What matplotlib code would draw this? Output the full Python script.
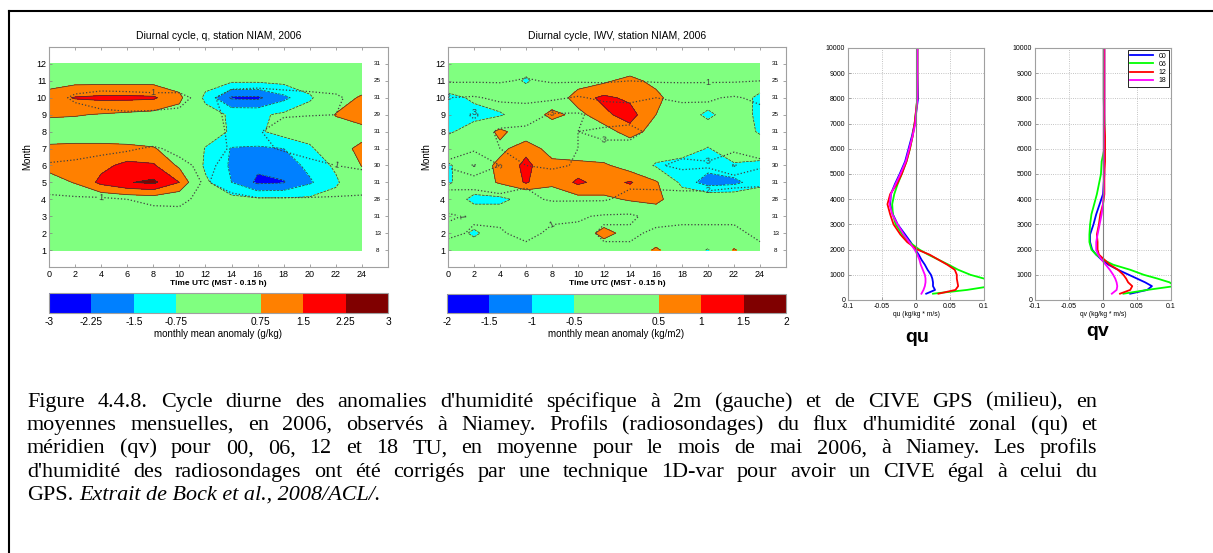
import matplotlib
matplotlib.use("Agg")
import matplotlib.pyplot as plt
import numpy as np
from matplotlib.colors import ListedColormap, BoundaryNorm
from matplotlib.cm import ScalarMappable
from matplotlib.lines import Line2D

plt.rcParams['font.family'] = ['Liberation Sans', 'DejaVu Sans']

W, H = 1213, 553

# ---- diurnal cycle grids (rows = months 1..12, cols = hours 0,2,..,24)
hours = list(range(0, 25, 2))
months = list(range(1, 13))

q_anom = [
    [0.0, 0.0, 0.0, 0.0, 0.0, 0.0, 0.0, 0.0, 0.0, 0.0, 0.0, 0.0, 0.0],
    [0.0, 0.0, 0.0, 0.0, 0.0, 0.0, 0.0, 0.0, 0.0, 0.0, 0.0, 0.0, 0.0],
    [0.0, 0.0, 0.0, 0.0, 0.0, 0.0, 0.0, 0.0, 0.0, 0.0, 0.0, 0.0, 0.0],
    [0.0, 0.0, 0.1, 0.2, 0.3, 0.1, -0.1, -0.5, -0.6, -0.6, -0.6, -0.4, 0.0],
    [0.4, 0.8, 1.7, 2.2, 2.4, 1.5, -0.6, -1.5, -2.4, -2.3, -1.6, -0.9, 0.2],
    [1.0, 0.9, 1.3, 1.7, 1.6, 0.6, -0.9, -1.6, -2.1, -1.9, -1.3, -0.6, 0.8],
    [0.9, 0.95, 0.95, 0.9, 0.8, 0.4, -0.8, -1.55, -1.6, -1.5, -1.0, 0.5, 0.9],
    [0.3, 0.3, 0.3, 0.3, 0.3, 0.2, -0.3, -0.85, -0.9, -0.4, 0.0, 0.3, 0.5],
    [0.85, 0.8, 0.7, 0.6, 0.5, 0.3, -0.3, -0.9, -0.9, -0.6, -0.2, 0.8, 1.1],
    [1.2, 1.55, 1.65, 1.65, 1.6, 1.0, -1.0, -2.35, -2.4, -1.7, -0.9, 0.2, 0.9],
    [0.3, 0.5, 0.5, 0.5, 0.5, 0.2, -0.3, -0.6, -0.6, -0.5, -0.2, 0.0, 0.0],
    [0.0, 0.0, 0.0, 0.0, 0.0, 0.0, 0.0, 0.0, 0.0, 0.0, 0.0, 0.0, 0.0],
]
q_sig = [
    [0, 0, 0, 0, 0, 0, 0, 0, 0, 0, 0, 0, 0],
    [0, 0, 0, 0, 0, 0, 0, 0, 0, 0, 0, 0, 0],
    [0, 0, 0, 0, 0.5, 0.6, 0.3, 0, 0, 0, 0, 0, 0],
    [0.8, 0.9, 0.9, 1.0, 1.3, 1.3, 0.6, 0.7, 0.9, 0.9, 0.9, 0.9, 0.9],
    [1.5, 1.5, 1.8, 2.0, 2.0, 1.5, 0.9, 1.5, 2.0, 2.0, 1.8, 1.5, 1.3],
    [1.1, 1.2, 1.3, 1.5, 1.6, 1.2, 0.8, 1.3, 1.5, 1.5, 1.2, 1.0, 0.9],
    [0.5, 0.6, 0.8, 0.9, 1.1, 0.8, 0.5, 1.1, 1.2, 0.9, 0.7, 0.5, 0.5],
    [0.2, 0.3, 0.3, 0.3, 0.3, 0.3, 0.4, 1.2, 1.1, 0.5, 0.3, 0.2, 0.2],
    [0.3, 0.5, 0.8, 0.9, 0.9, 0.8, 0.5, 1.3, 1.3, 1.1, 1.05, 1.0, 0.5],
    [0.5, 1.2, 1.4, 1.4, 1.3, 1.3, 0.6, 1.6, 1.8, 1.6, 1.4, 1.2, 0.5],
    [0.2, 0.3, 0.4, 0.3, 0.3, 0.3, 0.2, 0.4, 0.4, 0.3, 0.3, 0.3, 0.2],
    [0, 0, 0, 0, 0, 0, 0, 0, 0, 0, 0, 0, 0],
]
iwv_anom = [
    [0.0, 0.0, 0.0, 0.0, 0.0, 0.0, 0.0, 0.0, 0.6, 0.0, -0.55, 0.55, 0.0],
    [0.0, -0.65, 0.0, 0.0, 0.0, 0.0, 0.75, 0.2, 0.0, 0.0, 0.0, 0.0, 0.0],
    [0.0, 0.0, 0.0, 0.0, 0.0, 0.0, 0.0, 0.0, 0.0, 0.0, 0.0, 0.0, 0.0],
    [0.0, -0.7, -0.7, -0.2, 0.2, 0.3, 0.4, 0.55, 0.7, 0.0, 0.0, 0.0, 0.0],
    [-0.6, 0.0, 0.6, 1.05, 0.6, 1.1, 0.8, 1.05, 0.6, -0.7, -1.25, -1.15, -0.7],
    [-0.6, 0.0, 0.7, 1.1, 0.7, 0.7, 0.6, 0.2, -0.6, -0.9, -0.8, -0.6, -0.7],
    [0.0, 0.0, 0.3, 0.9, 0.2, 0.0, 0.0, 0.0, 0.0, 0.0, -0.55, 0.0, 0.0],
    [-0.6, -0.2, 0.7, 0.0, 0.0, 0.0, 0.2, 0.8, 0.2, 0.0, 0.0, 0.0, -0.6],
    [-0.8, -0.7, -0.6, 0.0, 0.7, 0.3, 0.9, 1.2, 0.5, 0.0, -0.7, 0.0, -0.7],
    [-0.7, -0.4, 0.0, 0.0, 0.0, 0.8, 1.1, 0.9, 0.7, 0.0, 0.0, 0.0, -0.7],
    [0.0, 0.0, 0.0, -0.6, 0.0, 0.2, 0.4, 0.7, 0.3, 0.0, 0.0, 0.0, 0.0],
    [0.0, 0.0, 0.0, -0.2, 0.0, 0.0, 0.0, 0.0, 0.0, 0.0, 0.0, 0.0, 0.0],
]
iwv_sig = [
    [0.6, 0.8, 0.8, 0.7, 0.7, 0.8, 0.9, 0.9, 0.8, 0.8, 0.8, 0.9, 0.9],
    [1.2, 0.9, 0.9, 1.3, 0.8, 0.8, 1.1, 1.1, 0.9, 0.9, 0.9, 0.9, 1.1],
    [0.9, 1.1, 1.2, 1.2, 1.2, 1.1, 0.9, 0.9, 1.2, 1.1, 1.1, 1.1, 1.1],
    [1.5, 1.6, 1.9, 1.8, 2.1, 2.1, 2.1, 1.7, 1.6, 1.6, 1.6, 1.6, 1.7],
    [2.4, 2.3, 2.2, 2.1, 2.3, 2.6, 2.5, 2.2, 2.3, 2.4, 2.4, 2.2, 2.1],
    [3.1, 4.1, 3.0, 3.0, 3.2, 2.9, 2.9, 2.9, 2.9, 3.2, 3.1, 4.1, 3.2],
    [2.8, 2.8, 3.0, 3.9, 3.4, 3.0, 2.9, 2.8, 2.7, 2.7, 2.7, 2.7, 2.7],
    [2.6, 2.7, 3.1, 3.2, 3.4, 3.0, 3.1, 3.2, 2.8, 2.8, 2.7, 2.7, 2.9],
    [2.6, 3.1, 2.6, 2.6, 3.1, 3.1, 2.7, 2.7, 2.5, 2.5, 2.3, 2.2, 2.3],
    [2.0, 2.1, 1.8, 1.7, 1.8, 2.1, 1.8, 1.7, 2.0, 1.8, 1.9, 2.1, 1.8],
    [0.9, 0.9, 0.9, 1.1, 0.9, 0.9, 0.9, 1.0, 0.9, 0.9, 0.9, 0.9, 1.0],
    [0.5, 0.5, 0.5, 0.5, 0.5, 0.5, 0.5, 0.5, 0.5, 0.5, 0.5, 0.5, 0.5],
]
q_days = [8, 13, 31, 28, 31, 30, 31, 31, 29, 31, 25, 31]
iwv_days = [8, 13, 31, 28, 31, 30, 31, 31, 25, 31, 25, 31]
q_levels = [-3, -2.25, -1.5, -0.75, 0.75, 1.5, 2.25, 3]
iwv_levels = [-2, -1.5, -1, -0.5, 0.5, 1, 1.5, 2]
jet7 = ['#0000ff', '#0080ff', '#00ffff', '#80ff80', '#ff8000', '#ff0000', '#800000']

# ---- radiosonde flux profiles, May 2006
heights = [250, 400, 550, 700, 850, 1000, 1200, 1400, 1600, 1800, 2000, 2300, 2600,
           3000, 3400, 3800, 4200, 4600, 5000, 5500, 6000, 6500, 7000, 8000, 9000, 10000]
qu_00 = [0.015, 0.028, 0.025, 0.025, 0.024, 0.022, 0.017, 0.013, 0.008, 0.004, -0.001, -0.008, -0.016,
         -0.027, -0.034, -0.038, -0.037, -0.031, -0.024, -0.016, -0.011, -0.006, -0.002, 0.003, 0.002, 0.002]
qu_06 = [0.025, 0.075, 0.11, 0.11, 0.1, 0.08, 0.062, 0.048, 0.033, 0.018, 0.005, -0.01, -0.02,
         -0.03, -0.034, -0.035, -0.032, -0.027, -0.021, -0.014, -0.009, -0.005, -0.002, 0.002, 0.002, 0.002]
qu_12 = [0.033, 0.058, 0.062, 0.061, 0.06, 0.06, 0.057, 0.046, 0.033, 0.02, 0.002, -0.013, -0.023,
         -0.033, -0.038, -0.042, -0.038, -0.028, -0.021, -0.014, -0.009, -0.005, -0.002, 0.002, 0.002, 0.002]
qu_18 = [0.008, 0.011, 0.013, 0.014, 0.014, 0.013, 0.01, 0.007, 0.005, 0.002, -0.002, -0.01, -0.018,
         -0.027, -0.035, -0.039, -0.037, -0.03, -0.023, -0.015, -0.01, -0.005, -0.001, 0.002, 0.002, 0.002]
qv_00 = [0.04, 0.065, 0.072, 0.062, 0.05, 0.038, 0.022, 0.008, -0.002, -0.01, -0.016, -0.019, -0.019,
         -0.014, -0.01, -0.005, 0.0, 0.001, 0.002, 0.001, 0.002, 0.002, 0.002, 0.002, 0.002, 0.002]
qv_06 = [0.03, 0.065, 0.105, 0.098, 0.08, 0.06, 0.04, 0.015, 0.0, -0.01, -0.017, -0.02, -0.02,
         -0.019, -0.017, -0.013, -0.009, -0.006, -0.003, -0.002, 0.002, 0.002, 0.002, 0.001, 0.001, 0.001]
qv_12 = [0.025, 0.04, 0.043, 0.037, 0.034, 0.03, 0.022, 0.01, 0.002, -0.006, -0.008, -0.008, -0.009,
         -0.006, -0.004, 0.0, 0.002, 0.002, 0.002, 0.003, 0.003, 0.003, 0.002, 0.002, 0.002, 0.002]
qv_18 = [0.013, 0.02, 0.021, 0.02, 0.018, 0.015, 0.01, 0.004, -0.002, -0.007, -0.01, -0.01, -0.008,
         -0.005, -0.002, 0.0, 0.001, 0.001, 0.001, 0.001, 0.001, 0.001, 0.001, 0.001, 0.001, 0.001]
times = ['00', '06', '12', '18']
prof_colors = ['#0000ff', '#00ff00', '#ff0000', '#ff00ff']

caption = [
    "Figure 4.4.8. Cycle diurne des anomalies d'humidité spécifique à 2m (gauche) et de CIVE GPS (milieu), en",
    "moyennes mensuelles, en 2006, observés à Niamey. Profils (radiosondages) du flux d'humidité zonal (qu) et",
    "méridien (qv) pour 00, 06, 12 et 18 TU, en moyenne pour le mois de mai 2006, à Niamey. Les profils",
    "d'humidité des radiosondages ont été corrigés par une technique 1D-var pour avoir un CIVE égal à celui du",
]
caption_last = "GPS."
caption_italic = "Extrait de Bock et al., 2008/ACL/."


def box(l, t, r, b):
    return [l / W, 1 - b / H, (r - l) / W, (b - t) / H]


def diurnal_panel(ax, field, sig, levels, sig_levels, title, days):
    ax.contourf(hours, months, field, levels=levels, colors=jet7)
    ax.contour(hours, months, field, levels=levels, colors='#333333', linewidths=0.5)
    cl = ax.contour(hours, months, sig, levels=sig_levels, colors='#404040',
                    linewidths=0.9, linestyles='dotted')
    ax.clabel(cl, fmt='%d', fontsize=6.5, inline=True, inline_spacing=1)
    ax.set_xlim(0, 26)
    ax.set_ylim(0, 13)
    ax.set_xticks(hours)
    ax.set_yticks(months)
    ax.tick_params(direction='in', top=True, right=True, length=2.5, width=0.5,
                   labelsize=6.5, color='#808080', pad=2)
    for s in ax.spines.values():
        s.set_color('#a0a0a0')
        s.set_linewidth(0.8)
    for m, d in zip(months, days):
        ax.text(25.2, m, str(d), fontsize=4.5, ha='center', va='center')
    ax.set_title(title, fontsize=7.5, pad=6)
    ax.set_ylabel('Month', fontsize=7, labelpad=3)
    ax.set_xlabel('Time UTC (MST - 0.15 h)', fontsize=6, fontweight='bold', labelpad=1)


def colorbar(rect, levels, label):
    cax = fig.add_axes(rect)
    norm = BoundaryNorm(levels, 7)
    sm = ScalarMappable(norm=norm, cmap=ListedColormap(jet7))
    cb = fig.colorbar(sm, cax=cax, orientation='horizontal', spacing='proportional', ticks=levels)
    cb.ax.set_xticklabels(['%g' % v for v in levels])
    cb.ax.tick_params(length=0, labelsize=7.3, pad=3)
    cb.outline.set_edgecolor('#a0a0a0')
    cb.outline.set_linewidth(0.8)
    cb.set_label(label, fontsize=7, labelpad=1)


def profile_panel(ax, series, xlabel):
    for vals, c in zip(series, prof_colors):
        ax.plot(vals, heights, color=c, lw=1.3)
    ax.axvline(0, color='#808080', lw=0.8)
    ax.set_xlim(-0.1, 0.1)
    ax.set_ylim(0, 10000)
    ax.set_xticks([-0.1, -0.05, 0, 0.05, 0.1])
    ax.set_xticklabels(['-0.1', '-0.05', '0', '0.05', '0.1'])
    ax.set_yticks(range(0, 10001, 1000))
    ax.grid(True, linestyle=':', color='#b0b0b0', lw=0.6)
    ax.tick_params(direction='in', length=2, width=0.5, labelsize=5, pad=2, color='#808080')
    for s in ax.spines.values():
        s.set_color('#a0a0a0')
        s.set_linewidth(0.8)
    ax.set_xlabel(xlabel, fontsize=4.8, labelpad=1)


fig = plt.figure(figsize=(W / 100, H / 100), dpi=100)

ax1 = fig.add_axes(box(49, 47, 388, 267))
diurnal_panel(ax1, q_anom, q_sig, q_levels, [1], 'Diurnal cycle, q, station NIAM, 2006', q_days)
colorbar(box(49, 293, 388, 313), q_levels, 'monthly mean anomaly (g/kg)')

ax2 = fig.add_axes(box(448, 47, 786, 267))
diurnal_panel(ax2, iwv_anom, iwv_sig, iwv_levels, [1, 2, 3, 4], 'Diurnal cycle, IWV, station NIAM, 2006', iwv_days)
colorbar(box(447, 294, 786, 313), iwv_levels, 'monthly mean anomaly (kg/m2)')

ax3 = fig.add_axes(box(848, 48, 984, 300))
profile_panel(ax3, [qu_00, qu_06, qu_12, qu_18], 'qu (kg/kg * m/s)')
ax4 = fig.add_axes(box(1035, 48, 1171, 300))
profile_panel(ax4, [qv_00, qv_06, qv_12, qv_18], 'qv (kg/kg * m/s)')
leg = ax4.legend(times, loc='upper right', fontsize=5, handlelength=3.2, fancybox=False,
                 edgecolor='black', framealpha=1, borderaxespad=0.3, labelspacing=0.15)
leg.get_frame().set_linewidth(0.6)

fig.text(916.7 / W, 1 - 337 / H, 'qu', fontsize=14, fontweight='bold', ha='center', va='center')
fig.text(1097.7 / W, 1 - 332 / H, 'qv', fontsize=14, fontweight='bold', ha='center', va='center')

# outer frame (left and top edges)
fig.add_artist(Line2D([9 / W, 9 / W], [0, 1 - 11 / H], color='black', lw=1.5))
fig.add_artist(Line2D([9 / W, 1], [1 - 11 / H, 1 - 11 / H], color='black', lw=1.5))

# caption, justified lines
cap_size = 15.9
cap_font = dict(family='Liberation Serif', fontsize=cap_size)
x0, x1 = 27, 1097
base0, step = 406.7, 23.33
renderer = fig.canvas.get_renderer()
for i, line in enumerate(caption):
    y = 1 - (base0 + i * step) / H
    words = line.split(' ')
    objs = [fig.text(0, y, w, va='baseline', **cap_font) for w in words]
    widths = [o.get_window_extent(renderer).width for o in objs]
    gap = (x1 - x0 - sum(widths)) / (len(words) - 1)
    x = x0
    for o, w in zip(objs, widths):
        o.set_x(x / W)
        x += w + gap
y = 1 - (base0 + 4 * step) / H
t = fig.text(x0 / W, y, caption_last, va='baseline', **cap_font)
w = t.get_window_extent(renderer).width
fig.text((x0 + w + 0.25 * cap_size * 100 / 72) / W, y, caption_italic, va='baseline', style='italic', **cap_font)

fig.savefig('out.png', dpi=100)
